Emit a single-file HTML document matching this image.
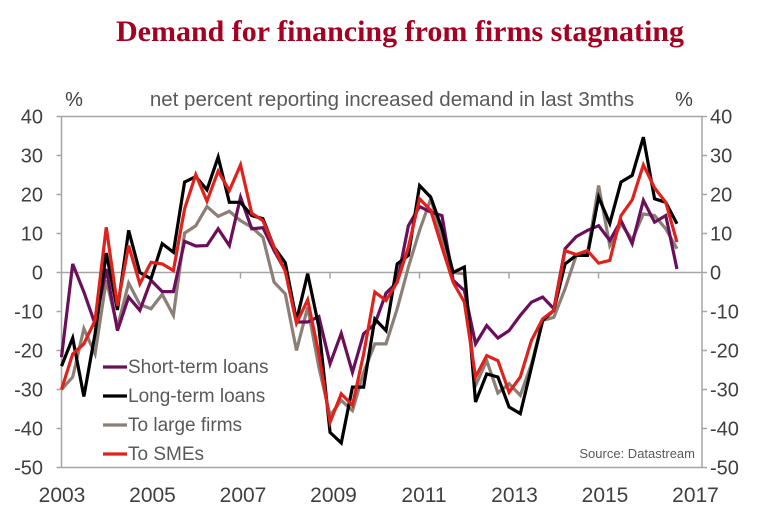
<!DOCTYPE html>
<html><head><meta charset="utf-8"><style>
body{margin:0;background:#fff;width:771px;height:518px;overflow:hidden}
svg text{font-family:"Liberation Sans",Arial,sans-serif}
</style></head><body>
<svg id="chart" width="771" height="518" xmlns="http://www.w3.org/2000/svg">
<text x="400" y="41" text-anchor="middle" style="font-family:'Liberation Serif',serif;font-weight:bold;font-size:30px" fill="#a50021">Demand for financing from firms stagnating</text>
<text x="392" y="106" text-anchor="middle" font-size="20.5" fill="#595959">net percent reporting increased demand in last 3mths</text>
<text x="74" y="106" text-anchor="middle" font-size="20" fill="#404040">%</text>
<text x="684" y="106" text-anchor="middle" font-size="20" fill="#404040">%</text>
<g id="axes"></g>
<g id="series"></g>
<g id="legend"></g>
<text x="695" y="458" text-anchor="end" font-size="13" fill="#595959">Source: Datastream</text>
</svg>
<script>
const yTicks=[40,30,20,10,0,-10,-20,-30,-40,-50];
const xLabels=["2003","2005","2007","2009","2011","2013","2015","2017"];
const shortTerm=[-21.7,2.2,-5,-13.2,0.9,-14.9,-6.3,-9.7,-2,-4.9,-4.9,8,6.8,6.9,11.2,6.9,19.3,11.2,11.5,5.6,0.5,-12.7,-12.7,-11.3,-23.4,-15.6,-25.6,-15.7,-13.2,-5.3,-2.5,12,16.9,15.5,14.6,-2,-4.6,-18.3,-13.6,-16.8,-14.9,-11,-7.6,-6.3,-9.3,6.1,9.2,10.8,12,8.2,13.3,7.4,18.5,12.9,14.6,0.9];
const longTerm=[-24,-16.8,-31.8,-15.7,5,-9.6,10.8,0,-1.6,7.4,5.2,23.2,24.6,21.2,29.6,18,18,14.6,13.8,6.5,2.5,-12.3,-0.3,-14,-41,-43.7,-29.4,-29.4,-11.9,-14.9,2.2,4.4,22.3,19.3,11.2,0,1.4,-33.2,-26,-26.8,-34.5,-36.2,-24.3,-12.3,-9.7,2.2,4.4,4.4,19.3,12.6,23.2,24.9,34.7,18.9,18,12.5];
const largeFirms=[-30,-26.8,-14.4,-20.9,-2,-14,-2.7,-8.2,-9.3,-5.6,-11,10.1,12,16.9,14.4,15.7,13.3,11.6,9,-2.5,-5.5,-20,-8.9,-24.3,-36.7,-32.8,-35.4,-25.6,-18.3,-18.3,-9.3,1.4,10.8,18.9,9,0,-0.3,-29,-22.6,-30.9,-28.5,-31.5,-23.4,-12.3,-11.5,-4.2,4.4,4.8,22.3,6.9,12.5,8.4,15,14.6,11.2,6.1];
const smes=[-30,-20.9,-18.3,-12.3,11.6,-8.5,6.9,-2.9,2.6,2.2,0.5,16.3,25.1,18.3,26,21,27.6,15.2,13.3,6.5,0.3,-13,-7,-20.9,-38.4,-31.1,-34.1,-20.9,-5,-7.2,-2.5,6.5,18.9,15.9,6.5,-2.5,-7.6,-26.8,-21.3,-22.6,-30.7,-26.8,-17.4,-11.9,-9.7,5.6,4.6,5.6,2.4,3.1,14.6,18.6,27.6,21.7,18,7.8];
const seriesNames=["Short-term loans","Long-term loans","To large firms","To SMEs"];
const NS="http://www.w3.org/2000/svg";
const L=61.5,R=702,T=116.5,B=467.5;
function y(v){return 272.5-(v)*3.9;}
function x(i){return 61.5+i*11.19;}
function mk(tag,attrs,parent){const e=document.createElementNS(NS,tag);for(const k in attrs)e.setAttribute(k,attrs[k]);parent.appendChild(e);return e;}
const ax=document.getElementById('axes');
let e=mk('path',{d:`M${L},${T}H${R}V${B}H${L}Z`,fill:'none',stroke:'#a6a6a6','stroke-width':1.5},ax);


e=mk('line',{x1:L,x2:R,y1:y(0),y2:y(0),stroke:'#a6a6a6','stroke-width':1.5},ax);


yTicks.forEach(v=>{
  let t=mk('line',{x1:L-5,x2:L,y1:y(v),y2:y(v),stroke:'#a6a6a6','stroke-width':1.5},ax);
  
  
  t=mk('line',{x1:R,x2:R+5,y1:y(v),y2:y(v),stroke:'#a6a6a6','stroke-width':1.5},ax);
  
  
  let lb=mk('text',{x:43,y:y(v)+7,'text-anchor':'end','font-size':20,fill:'#404040'},ax);lb.textContent=v;
  
  
  lb=mk('text',{x:710,y:y(v)+7,'font-size':20,fill:'#404040'},ax);lb.textContent=v;
  
  
});
for(let k=0;k<7;k++){
  const tx=L+k*89.5;
  if(k>=2){let t=mk('line',{x1:tx,x2:tx,y1:y(0),y2:y(0)+6,stroke:'#a6a6a6','stroke-width':1.5},ax);
  
  }
}
xLabels.forEach((s,k)=>{
  const lb=mk('text',{x:62+k*90.5,y:502,'text-anchor':'middle','font-size':21,fill:'#404040'},ax);lb.textContent=s;
  
  
});
const sg=document.getElementById('series');
const data=[shortTerm,longTerm,largeFirms,smes];
const colors=['#6b0f5a','#000000','#8c7f77','#e0221c'];
const order=[2,0,1,3];
order.forEach(s=>{
  const p=mk('polyline',{points:data[s].map((v,i)=>x(i)+','+y(v)).join(' '),fill:'none',stroke:colors[s],'stroke-width':3.2,'stroke-linejoin':'miter'},sg);
  
  
});
const lg=document.getElementById('legend');
seriesNames.forEach((n,k)=>{
  const yy=373+k*29;
  const l=mk('line',{x1:103,x2:127,y1:yy-6,y2:yy-6,stroke:colors[k],'stroke-width':3.2},lg);
  
  
  const t=mk('text',{x:128,y:yy,'font-size':19,fill:'#595959'},lg);t.textContent=n;
  
  
});
</script>
</body></html>
